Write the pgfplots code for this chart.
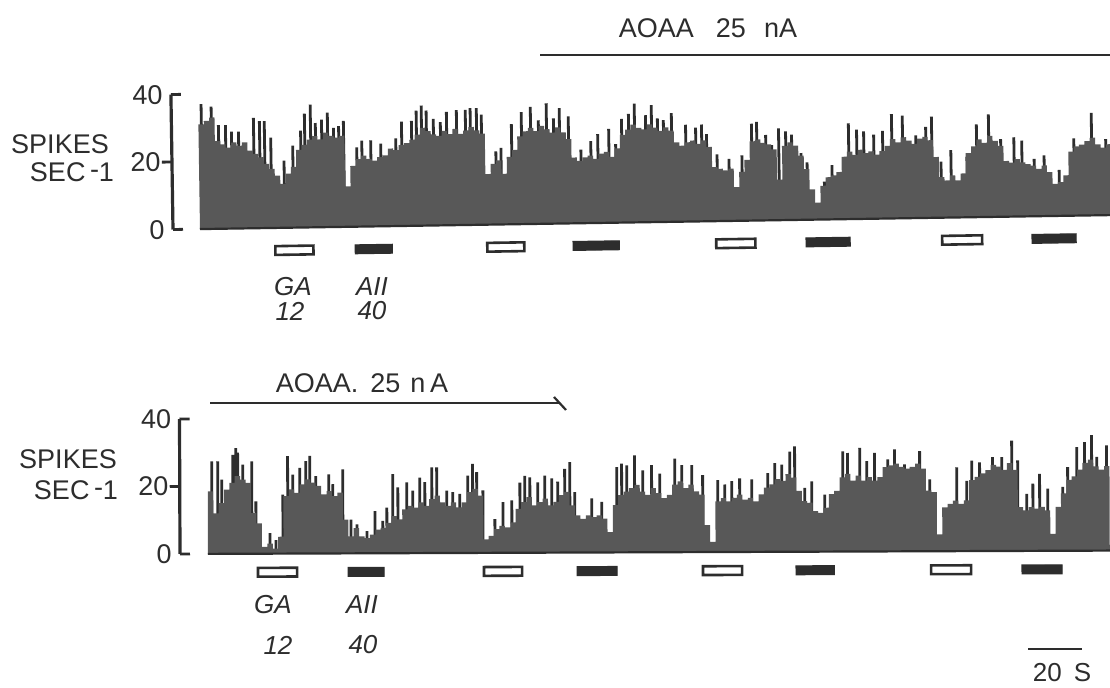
\documentclass[border=0pt]{standalone}
\usepackage{pgfplots}
\pgfplotsset{compat=1.18}
\usepackage{pgfplotstable}
\usepackage{fontspec}
\setmainfont{Liberation Sans}

\definecolor{mass}{RGB}{88,88,88}
\definecolor{ink}{RGB}{45,45,45}

% Firing rate (spikes/s) in consecutive 2 s bins, first record
\pgfplotstableread{
v
31
32
33
26
25
24
25.5
24.5
25.5
23
22
21
19
17.5
15.5
13
16
18
23
24.5
26
27
26
28
27
26.5
27
12
18
20
21
20
19.5
20.5
21
23
22.5
24
24.5
25.5
27
29
28
27
26.5
28
27
28.5
27
28
29
28
27
15
18
19
15
20
22
26
27.5
28.5
27.5
29
28
27
28.5
27
25
19.5
18.5
19.5
20
19
20.5
21
19.5
22
26
27.5
29
28
27.5
29
28
27
28
27
23.5
22.5
23.5
24
23
24
22
16
15.5
15
15.5
10
14.5
18
23.5
24
23
22.5
21
12
22
23
22
19
15
9
5
10
12.5
13
14
18.5
20
19
20.5
19.5
20
19
20
21.5
23.5
22.5
24
23
22
23.5
24
23
18
12
11
12.5
11
13
19
21
23
22
24
22.5
21
16.5
16
17
16
15.5
15
14
15
13
9.5
10
12
19
20.5
21
22
23
21
20
21
21
}\upperrate

% Peak single-bin counts, first record (time in s, spikes/s)
\pgfplotstableread{
t v
1.1 37
4.8 36.2
7.4 30.7
10 30.7
12.2 28.7
14.8 28.7
20.4 32.7
22.6 31.7
24.4 31.7
26.7 26.8
31.5 19.9
34.8 24.3
37.8 28.7
39.3 33.7
41.5 36.4
43.3 30.9
45.6 31.9
47.8 33.9
50 29.4
51.9 29.9
53.7 31.4
58.5 23.5
60.4 25.5
63.7 25.5
67.4 24.5
73 26
75.2 30.9
78.9 31.1
80.7 34.1
82.6 35.6
84.4 34.1
87 31.6
89.6 30.6
91.9 33.6
95.6 34.1
98.9 34.1
100.7 34.6
103 34.6
104.8 32.6
110 21.7
111.9 22.7
115.9 29.7
119.6 33.2
123 34.7
125.9 30.7
128.9 35.7
131.5 31.2
133.7 34.2
137 31.7
141.5 21.8
145.2 24.3
147.8 26.3
151.9 27.8
154.4 23.3
156.7 30.7
159.3 32.2
161.5 35.2
165.6 31.7
167.8 34.7
170 30.7
172.2 30.2
175.2 32.2
180.4 28.7
184.1 27.8
186.3 28.7
188.1 25.8
191.9 19.8
196.3 18.4
201.1 19.4
204.8 28.7
206.7 29.2
210 25.3
212.2 22.3
214.8 27.2
217.4 26.3
219.6 25.3
223 19.8
225.2 17
231.5 11.2
234.4 16.1
240.7 28.4
243.7 26.5
246.3 25.9
250 24.9
253.3 26
256.7 30.9
260.7 30.4
265.6 24.5
269.3 27
271.5 30
274.8 16.6
278.5 20
284.4 18
288.1 27.5
292.6 30.4
297 23
301.9 23.5
304.8 22.5
309.3 17
313 18
318.5 13.6
324.1 22.9
330.7 30.4
335.9 22.5
}\upperpeaks

% Firing rate (spikes/s) in consecutive 2 s bins, second record
\pgfplotstableread{
v
18.5
12
15
19
21
23
22
21
12
9
2
3
1.5
5
17
19
18
20.5
22
21
20
17.5
18.5
17
18
10
5
7.5
5
4.5
5.5
7
7.5
9
11
10
13
14
13.5
15
14
16
17
15
14
15
13.5
15
18
19
17
4
5
7
8
7.5
9
13
15
16.5
14
15
16
14
15
17
18
14
11
10
11
10.5
11
10
6
14
17
18
19
20
18
17
19
17.5
16
17
20
21
19
20
18
17
8
3
15
16
15
16
17
15.5
16
15
17
19
20
21.5
21
23
22
18
15
14.5
12
11.5
13
17
18
22
23
21
22.5
21
22
21
22
25
25.5
26
25
24.5
25
26
24.5
18
17.5
5
13
14
15
14
15
21
22
23
24
25.5
25
24
26
24
13
12
13
12.5
13
12
5
13
17
21
22
24
26
27
25
24
25
25
}\lowerrate

% Peak single-bin counts, second record (time in s, spikes/s)
\pgfplotstableread{
t v
1.5 27.4
3.7 27.4
5.2 22
9.3 29.3
10.4 31.3
11.1 30
13 26.4
16.3 27.4
17.8 15.5
19.3 8.6
23 6.1
25.2 4
27.8 17.5
29.6 28.9
31.5 23.4
34.1 25.4
36.3 27.4
37.8 28.9
40 22.9
44.8 23.4
46.3 20.5
50 24.9
53 10
55.2 8.6
58.9 6.6
61.9 12.5
64.8 9.6
66.3 13.5
68.5 23.4
70.4 19.5
73.7 21
75.9 18.5
78.5 22.4
80.4 21
83 25.4
84.8 25.4
88.5 18.5
90.7 18
93.3 17.5
96.3 22.9
98.1 26.4
99.6 23.9
101.9 18.5
106.3 10
109.3 15
112.6 15.5
115.6 20.8
117.4 22.8
119.3 22.3
122.2 20.8
124.8 22.8
127.4 22
129.6 21
132.2 24.8
134.1 26.8
135.9 17.9
142.2 16
145.9 15
151.5 25.3
153.3 26.3
155.2 25.8
158.1 28.7
161.1 24.3
164.4 25.8
167.4 23.3
173 27.7
175.6 25.8
179.3 25.8
183.3 22.8
188.9 21.3
191.5 20
194.1 21
197 21.8
201.5 21.5
207.4 23.3
210 26.3
212.6 25.8
215.6 29.7
217.4 31.2
221.1 18.9
223.7 20.8
228.5 16.9
235.2 29.7
237 29.2
241.5 30.7
244.1 26.8
247 29.2
251.9 27.3
254.4 30.2
258.1 25.8
263.7 29.7
267.4 21.3
277.4 24.8
281.1 20.8
283 26.8
285.9 26.3
290.7 27.8
294.1 27.8
297.8 32.7
300 26.8
303.3 16.9
305.6 19.9
308.1 22.8
311.1 18.4
316.7 18.9
318.5 24.8
321.9 30.7
324.8 32.2
327.4 34.2
329.3 27.8
332.9 31.2
}\lowerpeaks

\pgfplotsset{
  trace/.style={
    scale only axis, height=67.5pt,
    ymin=0, ymax=40, clip=false,
    axis x line=none, axis y line*=left,
    axis line style={line width=1.6pt, draw=ink},
    ytick={0,40}, tick align=inside,
    extra y ticks={20},
    extra y tick style={tick align=outside,
      yticklabel style={inner xsep=0.5pt}},
    major tick length=5pt,
    tick style={line width=1.4pt, draw=ink},
    yticklabel style={font=\fontsize{13.5}{13.5}\selectfont, text=ink,
      inner xsep=4pt},
    /pgf/number format/assume math mode=true,
  },
  peaks/.style={ycomb, draw=ink, line width=1.4pt, mark=none},
  rate/.style={const plot, fill=mass, draw=none},
  onbar/.style={draw=ink, fill=white, line width=1.3pt},
  offbar/.style={draw=ink, fill=ink, line width=0.6pt},
}

\begin{document}
\begin{tikzpicture}[x=1pt, y=1pt, every node/.style={text=ink, inner sep=0pt}]
\useasboundingbox (0,0) rectangle (555,-344);
\clip (0,0) rectangle (555,-344);
\fill[white] (0,0) rectangle (555,-344);

% ---------------- first record ----------------
\begin{scope}[transform canvas={rotate around={0.88:(86.5,-114.75)}}]
\begin{axis}[trace, at={(86.5pt,-114.75pt)}, anchor=south west,
    width=468.5pt, xmin=-10, xmax=337.04]
  \addplot[peaks] table[x=t, y=v] {\upperpeaks};
  \addplot[rate] table[x expr=\coordindex*2, y=v] {\upperrate} \closedcycle;
  \addplot[draw=ink, line width=1.1pt] coordinates {(0,0) (338,0)};
  % GABA (open) and angiotensin II (filled) applications
  \addplot[onbar]  coordinates {(27.8,-5.4) (41.9,-5.4) (41.9,-8) (27.8,-8)} -- cycle;
  \addplot[offbar] coordinates {(57.4,-5.4) (71.1,-5.4) (71.1,-8) (57.4,-8)} -- cycle;
  \addplot[onbar]  coordinates {(106.3,-5.4) (120,-5.4) (120,-8) (106.3,-8)} -- cycle;
  \addplot[offbar] coordinates {(138.1,-5.4) (155.2,-5.4) (155.2,-8) (138.1,-8)} -- cycle;
  \addplot[onbar]  coordinates {(191.1,-5.4) (205.6,-5.4) (205.6,-8) (191.1,-8)} -- cycle;
  \addplot[offbar] coordinates {(224.4,-5.4) (240.7,-5.4) (240.7,-8) (224.4,-8)} -- cycle;
  \addplot[onbar]  coordinates {(274.8,-5.4) (289.6,-5.4) (289.6,-8) (274.8,-8)} -- cycle;
  \addplot[offbar] coordinates {(308.1,-5.4) (324.4,-5.4) (324.4,-8) (308.1,-8)} -- cycle;
\end{axis}
\end{scope}

\node[font=\fontsize{13.5}{13.5}\selectfont] at (30,-72) {SPIKES};
\node[font=\fontsize{13.5}{13.5}\selectfont] at (36,-86) {SEC\,\raisebox{1.5pt}{-}1};
\node[font=\fontsize{13}{13}\selectfont\itshape] at (146.5,-143.5) {GA};
\node[font=\fontsize{13}{13}\selectfont\itshape] at (145,-155.5) {12};
\node[font=\fontsize{13}{13}\selectfont\itshape] at (186,-143.5) {AII};
\node[font=\fontsize{13}{13}\selectfont\itshape] at (186,-155.5) {40};
\node[font=\fontsize{13.5}{13.5}\selectfont] at (354,-14) {AOAA\hspace{11pt}25\hspace{9pt}nA};
\draw[ink, line width=1.3pt] (270,-27.5) -- (555,-27.5);

% ---------------- second record ----------------
\begin{scope}[transform canvas={rotate around={0.21:(90,-277)}}]
\begin{axis}[trace, at={(90pt,-277pt)}, anchor=south west,
    width=465pt, xmin=-10.37, xmax=334.07]
  \addplot[peaks] table[x=t, y=v] {\lowerpeaks};
  \addplot[rate] table[x expr=\coordindex*2, y=v] {\lowerrate} \closedcycle;
  \addplot[draw=ink, line width=1.1pt] coordinates {(0,0) (334,0)};
  \addplot[onbar]  coordinates {(18.5,-4.2) (33,-4.2) (33,-6.8) (18.5,-6.8)} -- cycle;
  \addplot[offbar] coordinates {(51.9,-4.2) (65.2,-4.2) (65.2,-6.8) (51.9,-6.8)} -- cycle;
  \addplot[onbar]  coordinates {(102.2,-4.2) (116.3,-4.2) (116.3,-6.8) (102.2,-6.8)} -- cycle;
  \addplot[offbar] coordinates {(136.7,-4.2) (151.5,-4.2) (151.5,-6.8) (136.7,-6.8)} -- cycle;
  \addplot[onbar]  coordinates {(183.3,-4.2) (197.8,-4.2) (197.8,-6.8) (183.3,-6.8)} -- cycle;
  \addplot[offbar] coordinates {(217.8,-4.2) (231.9,-4.2) (231.9,-6.8) (217.8,-6.8)} -- cycle;
  \addplot[onbar]  coordinates {(267.8,-4.2) (282.6,-4.2) (282.6,-6.8) (267.8,-6.8)} -- cycle;
  \addplot[offbar] coordinates {(301.5,-4.2) (316.3,-4.2) (316.3,-6.8) (301.5,-6.8)} -- cycle;
\end{axis}
\end{scope}

\node[font=\fontsize{13.5}{13.5}\selectfont] at (34,-229.5) {SPIKES};
\node[font=\fontsize{13.5}{13.5}\selectfont] at (38,-245) {SEC\,\raisebox{1.5pt}{-}1};
\node[font=\fontsize{13}{13}\selectfont\itshape] at (136.5,-302.5) {GA};
\node[font=\fontsize{13}{13}\selectfont\itshape] at (139,-322.5) {12};
\node[font=\fontsize{13}{13}\selectfont\itshape] at (181,-302.5) {AII};
\node[font=\fontsize{13}{13}\selectfont\itshape] at (181.5,-322.5) {40};
\node[font=\fontsize{13.5}{13.5}\selectfont] at (181,-191.5) {AOAA.\hspace{6pt}25\hspace{5pt}n\,A};
\draw[ink, line width=1.3pt] (105,-201.5) -- (280,-201.5);
\draw[ink, line width=1.1pt] (277,-198.5) -- (283,-205);

% time scale
\draw[ink, line width=1.3pt] (514,-324.5) -- (541,-324.5);
\node[font=\fontsize{13}{13}\selectfont] at (531,-336.5) {20\hspace{6pt}S};
\end{tikzpicture}
\end{document}
